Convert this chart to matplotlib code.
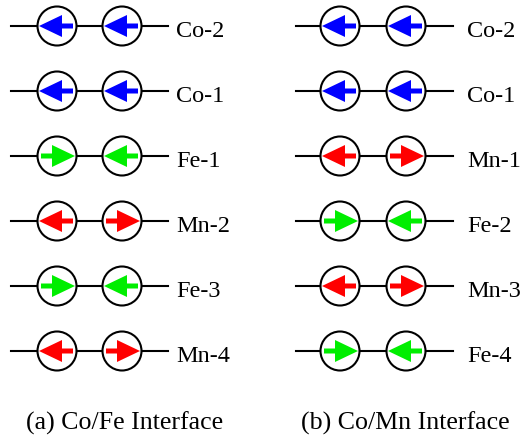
import matplotlib
matplotlib.use('Agg')
import matplotlib.pyplot as plt
from matplotlib.patches import Circle, Polygon

plt.rcParams['font.family'] = ['Liberation Serif', 'DejaVu Serif']

# spin arrangement, top row first; -1 = pointing left, +1 = pointing right
left_labels = ['Co-2', 'Co-1', 'Fe-1', 'Mn-2', 'Fe-3', 'Mn-4']
left_dirs = [(-1, -1), (-1, -1), (1, -1), (-1, 1), (1, -1), (-1, 1)]
right_labels = ['Co-2', 'Co-1', 'Mn-1', 'Fe-2', 'Mn-3', 'Fe-4']
right_dirs = [(-1, -1), (-1, -1), (-1, 1), (1, -1), (-1, 1), (1, -1)]
captions = ['(a) Co/Fe Interface', '(b) Co/Mn Interface']
ELEM_COLORS = {'Co': '#0000ff', 'Fe': '#00ee00', 'Mn': '#ff0000'}

W, H = 524, 438
fig = plt.figure(figsize=(W / 100, H / 100), dpi=100)
ax = fig.add_axes([0, 0, 1, 1])
ax.set_xlim(0, W)
ax.set_ylim(H, 0)
ax.axis('off')

row_y0, row_dy = 26, 65
R = 19.5


def spin(cx, cy, d, color):
    # d = +1 points left, -1 points right
    ax.add_patch(Circle((cx, cy), R, facecolor='white', edgecolor='black', lw=1.5, zorder=3))
    tip, base, tail = -18, 5, 16
    hw, sw = 11, 2.5
    pts = [(tip, 0), (base, -hw), (base, -sw), (tail, -sw), (tail, sw), (base, sw), (base, hw)]
    pts = [(cx + d * px, cy + py) for px, py in pts]
    ax.add_patch(Polygon(pts, closed=True, facecolor=color, edgecolor='none', zorder=4))


def panel(x0, x1, c1, c2, xlab, labels, dirs):
    for i, (lab, (d1, d2)) in enumerate(zip(labels, dirs)):
        y = row_y0 + i * row_dy
        col = ELEM_COLORS[lab.split('-')[0]]
        ax.plot([x0, x1], [y, y], color='black', lw=1.5, zorder=1)
        spin(c1, y, -d1, col)
        spin(c2, y, -d2, col)
        ax.text(xlab, y + 11, lab, fontsize=17.5, ha='left', va='baseline')


panel(11, 168, 57, 122, 176, left_labels, left_dirs)
panel(296, 453, 340, 406, 467, right_labels, right_dirs)

ax.text(125, 430, captions[0], fontsize=18.6, ha='center', va='baseline')
ax.text(405, 430, captions[1], fontsize=18.6, ha='center', va='baseline')

fig.savefig('out.png', dpi=100)
